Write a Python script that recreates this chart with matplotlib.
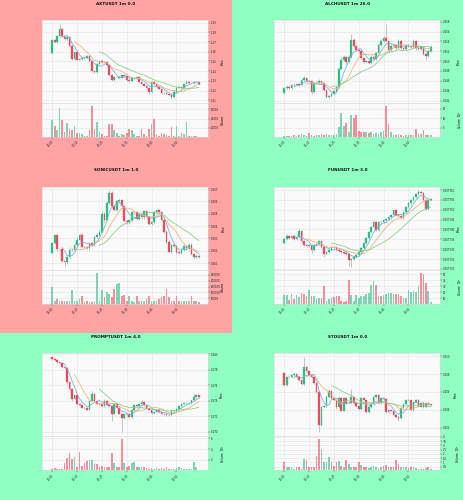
# six 1m candlestick panels (price + volume), one per cell

import matplotlib
matplotlib.use("Agg")
import matplotlib.pyplot as plt
import matplotlib.patches as mpatches
import matplotlib.ticker as mticker
import numpy as np
import pandas as pd

# ── palette ───────────────────────────────────────────────────────────────────
BG_RED    = "#FFA3A3"
BG_GREEN  = "#8FFFC2"
UP        = "#2EBD85"
DOWN      = "#F6465D"
WICK      = "#9A9A9A"
FACE      = "#FAFAFA"
GRID      = "#E3E3E3"
MA_COLORS = ["#6FAFD8", "#F4AE72", "#86C986"]
MAV       = (5, 10, 20)

time_labels = ["12:00", "12:10", "12:20", "12:30", "12:40", "12:50"]
time_ticks  = [0, 10, 20, 30, 40, 50]

# ── AKTUSDT ───────────────────────────────────────────────────────────────────
akt_open0 = 1.159
akt_close = [1.172, 1.170, 1.176, 1.184, 1.176, 1.173, 1.175, 1.166, 1.153, 1.160,
             1.152, 1.1525, 1.154, 1.1535, 1.1555, 1.150, 1.140, 1.1395, 1.1475, 1.150,
             1.1495, 1.149, 1.1465, 1.136, 1.131, 1.1335, 1.1335, 1.133, 1.1355, 1.135,
             1.131, 1.130, 1.1325, 1.133, 1.1335, 1.129, 1.1265, 1.125, 1.123, 1.118,
             1.129, 1.127, 1.1235, 1.1215, 1.1175, 1.117, 1.1165, 1.1155, 1.1135, 1.1185,
             1.1225, 1.1235, 1.1225, 1.127, 1.129, 1.128, 1.128, 1.129, 1.1285, 1.127]
akt_up = [1, 1, 1, 5, 1, 0, 1, 1, 1, 1, 1, 0, 1, 1, 1, 1, 1, 0, 1, 1,
          1, 1, 0, 1, 1, 1, 0, 1, 1, 0, 1, 1, 1, 0, 1, 1, 0, 1, 1, 1,
          1, 1, 1, 0, 1, 0, 1, 0, 1, 2, 1, 1, 1, 1, 2, 1, 0, 1, 1, 0]
akt_dn = [1, 1, 1, 1, 1, 1, 1, 1, 1, 1, 1, 0, 1, 1, 0, 1, 1, 1, 1, 0,
          1, 0, 1, 1, 1, 1, 0, 1, 0, 1, 1, 1, 0, 1, 0, 1, 1, 0, 1, 2,
          1, 1, 1, 0, 1, 1, 0, 1, 2, 1, 1, 0, 1, 1, 0, 1, 0, 1, 0, 1]
akt_vol = [36000, 25000, 16000, 62000, 36000, 11000, 31000, 18000, 16000, 25000,
           9000, 9000, 7000, 3000, 3000, 15000, 67000, 18000, 33000, 11000,
           7000, 3000, 3000, 29000, 28000, 15000, 9000, 3000, 7000, 5000,
           9000, 17000, 15000, 7000, 3000, 3000, 18000, 7000, 3000, 18000,
           28000, 39000, 7000, 3000, 9000, 7000, 5000, 3000, 22000, 3000,
           24000, 3000, 9000, 7000, 33000, 3000, 3000, 3000, 3000, 1500]

# ── ALCHUSDT ──────────────────────────────────────────────────────────────────
alch_open0 = 0.1435
alch_close = [0.1445, 0.1447, 0.1446, 0.1452, 0.1451, 0.1454, 0.1452, 0.1462, 0.1465, 0.1460,
              0.1459, 0.1438, 0.1456, 0.1455, 0.1459, 0.1455, 0.1441, 0.1428, 0.1430, 0.1433,
              0.1439, 0.1448, 0.1485, 0.1502, 0.1509, 0.1498, 0.1509, 0.1543, 0.1531, 0.1523,
              0.1520, 0.1506, 0.1499, 0.1501, 0.1496, 0.1508, 0.1504, 0.1516, 0.1532, 0.1540,
              0.1546, 0.1540, 0.1522, 0.1530, 0.1532, 0.1527, 0.1540, 0.1527, 0.1525, 0.1532,
              0.1530, 0.1529, 0.1541, 0.1526, 0.1525, 0.1528, 0.1514, 0.1510, 0.1521, 0.1528]
alch_up = [1, 2, 1, 1, 2, 1, 1, 2, 2, 1, 1, 1, 1, 2, 2, 1, 1, 1, 1, 1,
           1, 1, 2, 3, 2, 1, 2, 6, 2, 1, 1, 1, 1, 1, 1, 2, 1, 1, 2, 2,
           2, 15, 1, 2, 1, 1, 2, 1, 1, 1, 1, 1, 2, 1, 1, 1, 1, 1, 1, 2]
alch_dn = [1, 1, 1, 1, 1, 1, 2, 1, 1, 1, 1, 2, 1, 1, 1, 1, 1, 1, 2, 1,
           1, 1, 1, 1, 1, 2, 1, 1, 1, 1, 1, 1, 1, 1, 1, 1, 1, 1, 1, 1,
           1, 1, 2, 1, 1, 1, 1, 1, 1, 1, 1, 1, 1, 2, 1, 1, 1, 4, 1, 1]
alch_vol = [0.6, 0.4, 0.5, 0.8, 1.0, 0.9, 1.2, 1.8, 1.0, 0.9,
            2.4, 1.1, 0.8, 1.0, 1.2, 1.5, 1.4, 1.6, 1.2, 1.1,
            1.0, 1.5, 5.2, 12.6, 6.0, 7.4, 3.0, 11.7, 10.3, 11.5,
            3.2, 2.8, 2.7, 2.5, 2.0, 2.6, 1.5, 2.2, 1.8, 2.6,
            3.1, 16.3, 6.9, 2.5, 1.4, 1.2, 1.6, 1.1, 0.9, 1.4,
            1.3, 1.0, 1.2, 4.5, 1.6, 1.8, 3.6, 1.4, 1.3, 1.0]

# ── SONICUSDT ─────────────────────────────────────────────────────────────────
sonic_open0 = 0.20184
sonic_close = [0.20265, 0.20327, 0.20211, 0.20214, 0.2012, 0.2011, 0.2015, 0.2021, 0.2021, 0.2025,
               0.2029, 0.2033, 0.2023, 0.2023, 0.2022, 0.2026, 0.2025, 0.2031, 0.2033, 0.20355,
               0.2050, 0.2045, 0.2059, 0.2067, 0.2056, 0.2053, 0.2060, 0.2061, 0.2056, 0.2044,
               0.2043, 0.2045, 0.2051, 0.2051, 0.2046, 0.2050, 0.2047, 0.2052, 0.2047, 0.2042,
               0.2043, 0.2051, 0.2053, 0.2051, 0.2045, 0.20355, 0.20275, 0.20193, 0.2025, 0.2024,
               0.2019, 0.2018, 0.2021, 0.2024, 0.2022, 0.2025, 0.20175, 0.2015, 0.2016, 0.2015]
sonic_up = [1, 1, 1, 1, 1, 0, 1, 2, 1, 1, 2, 1, 1, 1, 1, 1, 1, 1, 1, 1,
            2, 1, 1, 2, 1, 1, 1, 1, 1, 1, 1, 1, 1, 1, 1, 1, 1, 1, 1, 1,
            1, 1, 1, 1, 1, 1, 1, 1, 1, 1, 1, 1, 1, 1, 1, 1, 1, 1, 1, 1]
sonic_dn = [1, 1, 1, 1, 1, 3, 2, 1, 1, 1, 1, 1, 1, 1, 1, 1, 1, 1, 1, 1,
            1, 2, 1, 1, 1, 1, 1, 1, 1, 1, 1, 1, 1, 1, 1, 1, 1, 1, 1, 1,
            1, 1, 1, 1, 1, 1, 1, 1, 1, 1, 2, 1, 1, 1, 1, 1, 1, 1, 1, 1]
sonic_vol = [144000, 29000, 44000, 29000, 29000, 29000, 23000, 29000, 124000, 23000,
             29000, 44000, 73000, 15000, 29000, 15000, 15000, 29000, 268000, 29000,
             120000, 58000, 100000, 87000, 58000, 130000, 173000, 178000, 73000, 80000,
             29000, 70000, 29000, 15000, 70000, 29000, 29000, 29000, 41000, 67000,
             29000, 29000, 29000, 44000, 64000, 73000, 130000, 58000, 29000, 29000,
             73000, 29000, 29000, 29000, 29000, 29000, 73000, 29000, 29000, 15000]

# ── FUNUSDT ───────────────────────────────────────────────────────────────────
fun_open0 = 0.0077333
fun_close = [0.0077350, 0.0077367, 0.0077355, 0.0077367, 0.0077350, 0.0077360, 0.0077392, 0.0077340, 0.0077320, 0.0077318,
             0.0077322, 0.0077296, 0.0077322, 0.0077328, 0.0077343, 0.0077313, 0.0077276, 0.0077285, 0.0077296, 0.0077313,
             0.0077310, 0.0077295, 0.0077293, 0.0077288, 0.0077283, 0.0077276, 0.0077245, 0.0077248, 0.0077262, 0.0077270,
             0.0077288, 0.0077305, 0.0077330, 0.0077355, 0.0077389, 0.0077414, 0.0077440, 0.0077397, 0.0077440, 0.0077436,
             0.0077448, 0.0077451, 0.0077461, 0.0077473, 0.0077499, 0.0077473, 0.0077470, 0.0077460, 0.0077490, 0.0077516,
             0.0077532, 0.0077549, 0.0077566, 0.0077579, 0.0077588, 0.0077585, 0.0077549, 0.0077502, 0.0077549, 0.0077552]
fun_up = [1, 2, 1, 1, 1, 1, 3, 1, 1, 1, 1, 1, 1, 1, 1, 1, 1, 1, 1, 1,
          1, 1, 1, 1, 1, 1, 1, 1, 1, 1, 1, 1, 1, 1, 1, 1, 1, 1, 1, 1,
          1, 1, 1, 1, 1, 1, 1, 1, 1, 1, 1, 1, 1, 1, 2, 1, 1, 1, 1, 1]
fun_dn = [1, 1, 1, 1, 1, 1, 1, 2, 1, 1, 1, 3, 1, 1, 1, 1, 3, 1, 1, 1,
          1, 1, 1, 1, 1, 1, 6, 7, 1, 1, 1, 1, 1, 1, 1, 1, 1, 1, 1, 1,
          1, 1, 1, 1, 1, 1, 1, 1, 1, 1, 1, 1, 1, 1, 1, 1, 1, 1, 1, 1]
fun_vol = [15, 16, 7, 17, 8, 15, 12, 18, 17, 14,
           24, 14, 14, 8, 11, 10, 30, 6, 8, 10,
           12, 13, 13, 6, 4, 6, 40, 15, 5, 15,
           11, 13, 14, 17, 18, 31, 38, 31, 13, 14,
           16, 17, 18, 18, 17, 17, 17, 14, 11, 11,
           24, 21, 22, 20, 30, 52, 50, 35, 22, 3]

# ── PROMPTUSDT ────────────────────────────────────────────────────────────────
prompt_open0 = 0.1796
prompt_close = [0.17936, 0.17923, 0.17894, 0.17881, 0.1783, 0.17817, 0.17638, 0.17553, 0.17426, 0.17468,
                0.17362, 0.1734, 0.17311, 0.17305, 0.17285, 0.1740, 0.17489, 0.1740, 0.17362, 0.17355,
                0.17332, 0.1740, 0.1734, 0.1733, 0.17234, 0.17362, 0.17311, 0.17234, 0.17179, 0.17234,
                0.17225, 0.17191, 0.17277, 0.17340, 0.17330, 0.17362, 0.17383, 0.1734, 0.17298, 0.17285,
                0.17243, 0.17250, 0.17277, 0.17255, 0.17234, 0.17225, 0.17213, 0.17210, 0.17268, 0.17272,
                0.17298, 0.17328, 0.17362, 0.17365, 0.1737, 0.17372, 0.17404, 0.17447, 0.17468, 0.17447]
prompt_up = [1, 1, 1, 1, 1, 1, 1, 1, 1, 1, 1, 1, 1, 1, 1, 1, 3, 2, 1, 1,
             1, 2, 1, 1, 1, 1, 1, 1, 1, 1, 1, 1, 1, 1, 1, 1, 2, 1, 1, 1,
             1, 1, 1, 1, 1, 1, 1, 1, 1, 1, 1, 1, 1, 1, 1, 1, 1, 5, 1, 1]
prompt_dn = [1, 1, 1, 1, 1, 1, 2, 3, 3, 1, 2, 1, 1, 1, 1, 1, 1, 1, 1, 1,
             1, 1, 1, 1, 9, 1, 1, 1, 18, 1, 1, 1, 1, 1, 1, 1, 1, 1, 1, 1,
             1, 1, 1, 1, 1, 1, 1, 1, 1, 1, 1, 1, 1, 1, 1, 1, 1, 1, 1, 1]
prompt_vol = [0.4, 0.5, 0.3, 0.3, 0.4, 1.35, 2.3, 3.3, 2.2, 2.5,
              0.6, 3.4, 0.9, 1.5, 1.8, 1.9, 1.9, 1.2, 1.2, 0.6,
              0.9, 0.7, 0.6, 0.6, 3.3, 1.5, 0.6, 0.6, 5.8, 1.4,
              0.7, 0.8, 1.5, 1.7, 0.6, 0.6, 0.6, 0.6, 0.5, 0.4,
              0.5, 0.3, 0.5, 0.4, 0.5, 0.3, 0.6, 0.3, 0.4, 0.3,
              0.5, 0.6, 0.5, 0.4, 0.4, 0.3, 0.4, 1.6, 0.6, 0.2]

# ── STOUSDT ───────────────────────────────────────────────────────────────────
sto_open0 = 0.1081
sto_close = [0.10679, 0.1077, 0.1077, 0.1079, 0.1080, 0.1077, 0.10735, 0.1069, 0.10884, 0.1084,
             0.1079, 0.10772, 0.10697, 0.10603, 0.1023, 0.10428, 0.10443, 0.10548, 0.10615, 0.10529,
             0.10515, 0.10428, 0.10529, 0.10391, 0.10529, 0.10473, 0.10480, 0.10548, 0.10473, 0.10440,
             0.10406, 0.10529, 0.10515, 0.10379, 0.10428, 0.10465, 0.10548, 0.10566, 0.10473, 0.10529,
             0.10520, 0.10379, 0.10400, 0.10391, 0.10342, 0.10316, 0.10310, 0.10417, 0.10465, 0.10510,
             0.10505, 0.10398, 0.10492, 0.10510, 0.10436, 0.10473, 0.10428, 0.10473, 0.10460, 0.10458]
sto_up = [1, 1, 1, 1, 1, 1, 1, 1, 11, 1, 1, 1, 1, 1, 1, 1, 1, 1, 2, 1,
          1, 1, 3, 1, 2, 1, 1, 9, 1, 1, 1, 1, 1, 1, 1, 1, 2, 1, 1, 1,
          1, 1, 1, 1, 1, 1, 1, 1, 1, 1, 1, 1, 1, 1, 1, 1, 3, 1, 1, 1]
sto_dn = [1, 1, 1, 1, 1, 1, 1, 1, 1, 1, 1, 1, 1, 1, 8, 1, 1, 1, 1, 1,
          1, 2, 1, 1, 1, 1, 1, 1, 1, 1, 1, 1, 1, 2, 1, 1, 1, 1, 1, 1,
          1, 1, 1, 1, 1, 1, 4, 1, 1, 1, 1, 1, 1, 1, 1, 1, 1, 1, 1, 1]
sto_vol = [1.0, 0.5, 0.4, 0.5, 0.2, 0.4, 0.5, 0.2, 1.4, 1.3,
           0.4, 0.4, 0.5, 1.8, 3.7, 2.6, 1.0, 1.1, 1.6, 1.0,
           0.6, 1.1, 1.2, 0.6, 0.4, 1.3, 0.8, 0.4, 0.4, 0.5,
           1.0, 0.7, 0.4, 0.4, 0.3, 0.4, 0.6, 0.4, 0.3, 0.4,
           0.6, 0.7, 0.4, 0.4, 0.5, 1.3, 0.8, 0.4, 0.4, 0.4,
           0.3, 0.4, 0.4, 0.3, 0.2, 0.2, 0.2, 0.3, 0.4, 0.2]

# title, bg, open0, close, up, dn, wick unit, vol, price ylim, y step, y fmt, vol step, vol label
panels = [
    ("AKTUSDT 1m 0.0", BG_RED, akt_open0, akt_close, akt_up, akt_dn, 0.001, akt_vol,
     (1.1071, 1.1928), 0.01, "{:.2f}", 20000, "Volume"),
    ("ALCHUSDT 1m 26.0", BG_GREEN, alch_open0, alch_close, alch_up, alch_dn, 0.0002, alch_vol,
     (0.14151, 0.15834), 0.002, "{:.3f}", 5, "Volume  $10^{5}$"),
    ("SONICUSDT 1m 1.0", BG_RED, sonic_open0, sonic_close, sonic_up, sonic_dn, 0.0001, sonic_vol,
     (0.20047, 0.20719), 0.001, "{:.3f}", 50000, "Volume"),
    ("FUNUSDT 1m 3.0", BG_GREEN, fun_open0, fun_close, fun_up, fun_dn, 5e-7, fun_vol,
     (0.0077196, 0.0077617), 0.000005, "{:.6f}", 10, "Volume  $10^{5}$"),
    ("PROMPTUSDT 1m 4.0", BG_GREEN, prompt_open0, prompt_close, prompt_up, prompt_dn, 0.0001, prompt_vol,
     (0.16941, 0.1801), 0.002, "{:.3f}", 2, "Volume  $10^{5}$"),
    ("STOUSDT 1m 0.0", BG_GREEN, sto_open0, sto_close, sto_up, sto_dn, 0.0001, sto_vol,
     (0.10102, 0.11034), 0.002, "{:.3f}", 0.5, "Volume  $10^{5}$"),
]
# x position (axes fraction) of the right-hand axis labels, per panel
label_x = [1.077, 1.10, 1.08, 1.098, 1.07, 1.085]

W, H, DPI = 464, 500, 100
fig = plt.figure(figsize=(W / DPI, H / DPI), dpi=DPI)
CELL_H = H / 3.0


def style_axes(ax):
    ax.set_facecolor(FACE)
    for sp in ax.spines.values():
        sp.set_edgecolor("#D6D6D6")
        sp.set_linewidth(0.4)
    ax.grid(True, color=GRID, linewidth=0.4, zorder=0)
    ax.set_axisbelow(True)
    ax.yaxis.tick_right()
    ax.yaxis.set_label_position("right")
    ax.tick_params(axis="both", labelsize=1.9, length=1.2, width=0.3, pad=1,
                   colors="#222222")
    ax.set_xlim(-4.1, 62.7)
    ax.set_xticks(time_ticks)


for i, p in enumerate(panels):
    (title, bg, open0, close, up, dn, unit, vol,
     ylim, ystep, yfmt, vstep, vlabel) = p
    row, col = divmod(i, 2)
    x0 = col * 0.5
    y0 = (2 - row) / 3.0

    # cell background
    fig.patches.append(mpatches.Rectangle((x0, y0), 0.5, 1 / 3.0, transform=fig.transFigure,
                                          facecolor=bg, edgecolor="none", zorder=-10))
    fig.text(x0 + 0.25, y0 + (CELL_H - 3.5) / H, title, ha="center", va="center",
             fontsize=2.95, fontweight="bold", color="#111111")

    ax_p = fig.add_axes([x0 + 42 / W, y0 + (CELL_H - 103) / H, 166 / W, 83 / H])
    ax_v = fig.add_axes([x0 + 42 / W, y0 + (CELL_H - 137) / H, 166 / W, 34 / H])
    style_axes(ax_p)
    style_axes(ax_v)

    c = np.array(close)
    o = np.concatenate([[open0], c[:-1]])
    hi = np.maximum(o, c) + np.array(up) * unit
    lo = np.minimum(o, c) - np.array(dn) * unit
    x = np.arange(len(c))
    colors = [UP if cc >= oo else DOWN for oo, cc in zip(o, c)]

    # candles
    ax_p.vlines(x, lo, hi, color=WICK, linewidth=0.4, zorder=2)
    ax_p.bar(x, np.abs(c - o), bottom=np.minimum(o, c), width=0.68, color=colors,
             edgecolor=colors, linewidth=0.2, zorder=3)
    for m, mc in zip(MAV, MA_COLORS):
        ma = pd.Series(c).rolling(m).mean()
        ax_p.plot(x, ma, color=mc, linewidth=0.55, zorder=4)

    ax_p.set_ylim(*ylim)
    ax_p.yaxis.set_major_locator(mticker.MultipleLocator(ystep))
    ax_p.yaxis.set_major_formatter(mticker.FuncFormatter(lambda v, _, f=yfmt: f.format(v)))
    ax_p.set_xticklabels([])
    ax_p.tick_params(axis="x", length=0)
    ax_p.set_ylabel("Price", fontsize=2.0)
    ax_p.yaxis.set_label_coords(label_x[i], 0.5)

    # volume
    v = np.array(vol, dtype=float)
    ax_v.bar(x, v, width=0.68, color=colors, alpha=0.6, linewidth=0, zorder=3)
    ax_v.set_ylim(0.3 * v.min(), 1.1 * v.max())
    ax_v.yaxis.set_major_locator(mticker.MultipleLocator(vstep))
    ax_v.yaxis.set_major_formatter(mticker.FuncFormatter(
        lambda val, _: f"{val:g}" if val > 0 else ""))
    ax_v.set_ylabel(vlabel, fontsize=2.0)
    ax_v.yaxis.set_label_coords(label_x[i], 0.5)
    ax_v.set_xticklabels(time_labels, rotation=45, ha="right", rotation_mode="anchor")

fig.savefig("out.png", dpi=DPI)
